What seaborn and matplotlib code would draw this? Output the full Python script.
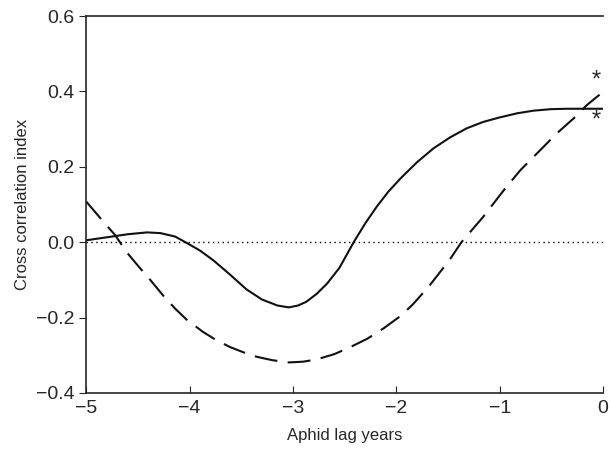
import numpy as np
import pandas as pd
import seaborn as sns
import matplotlib.pyplot as plt

# Values (each curve has its own lag positions)
solid_lag = [-5.0, -4.8, -4.6, -4.41, -4.28, -4.14, -4.04, -3.9, -3.77, -3.6, -3.45, -3.3,
             -3.15, -3.04, -2.95, -2.87, -2.77, -2.67, -2.55, -2.41, -2.3, -2.19,
             -2.08, -1.96, -1.8, -1.64, -1.48, -1.32, -1.16, -1.0, -0.83, -0.67,
             -0.5, -0.35, -0.2, 0.0]
solid_r = [0.005, 0.013, 0.021, 0.026, 0.024, 0.015, 0.0, -0.022, -0.048, -0.088, -0.125, -0.152,
           -0.168, -0.173, -0.168, -0.158, -0.137, -0.110, -0.068, 0.001, 0.05, 0.094,
           0.133, 0.169, 0.212, 0.249, 0.278, 0.302, 0.319, 0.331, 0.342, 0.349,
           0.353, 0.354, 0.354, 0.354]

dashed_lag = [-5.0, -4.82, -4.72, -4.61, -4.5, -4.38, -4.26, -4.14, -4.03, -3.87, -3.74,
              -3.61, -3.48, -3.35, -3.2, -3.04, -2.9, -2.77, -2.6, -2.45, -2.28,
              -2.12, -1.95, -1.84, -1.69, -1.59, -1.48, -1.37, -1.16, -0.96, -0.8,
              -0.63, -0.45, -0.27, -0.16, 0.0]
dashed_r = [0.108, 0.05, 0.019, -0.026, -0.062, -0.10, -0.14, -0.176, -0.205, -0.238, -0.26,
            -0.278, -0.292, -0.304, -0.313, -0.319, -0.317, -0.311, -0.297, -0.279, -0.256,
            -0.228, -0.194, -0.165, -0.119, -0.084, -0.045, 0.0, 0.067, 0.138, 0.191,
            0.238, 0.288, 0.332, 0.363, 0.399]

solid_df = pd.DataFrame({'lag': solid_lag, 'r': solid_r})
dashed_df = pd.DataFrame({'lag': dashed_lag, 'r': dashed_r})

sns.set_style('ticks')
plt.rcParams['font.family'] = ['Liberation Sans', 'DejaVu Sans']

fig = plt.figure(figsize=(6.11, 4.58), dpi=100)
ax = fig.add_axes([0.141, 0.142, 0.846, 0.823])

# zero reference line
ax.axhline(0, color='black', lw=1, ls=(0, (1, 2.5)))
sns.lineplot(data=solid_df, x='lag', y='r', ax=ax, color='#111111', lw=1.5)
sns.lineplot(data=dashed_df, x='lag', y='r', ax=ax, color='#111111', lw=1.5,
             linestyle=(0, (11, 5)))

# significance markers
ax.text(-0.07, 0.43, '*', ha='center', va='center', fontsize=17)
ax.text(-0.07, 0.322, '*', ha='center', va='center', fontsize=17)

ax.set_xlim(-5, 0)
ax.set_ylim(-0.4, 0.6)
ax.set_xticks([-5, -4, -3, -2, -1, 0])
ax.set_yticks([-0.4, -0.2, 0.0, 0.2, 0.4, 0.6])
ax.set_xticklabels(['\u22125', '\u22124', '\u22123', '\u22122', '\u22121', '0'])
ax.set_yticklabels(['\u22120.4', '\u22120.2', '0.0', '0.2', '0.4', '0.6'])
ax.tick_params(axis='x', direction='in', length=5, labelsize=14, pad=5)
ax.tick_params(axis='y', direction='out', length=5, labelsize=14)
ax.set_xlabel('Aphid lag years', fontsize=12, labelpad=8)
ax.set_ylabel('Cross correlation index', fontsize=12, labelpad=4)
ax.spines['right'].set_visible(False)
for s in ['left', 'bottom', 'top']:
    ax.spines[s].set_linewidth(1.2)

fig.savefig('out.png', dpi=100)
